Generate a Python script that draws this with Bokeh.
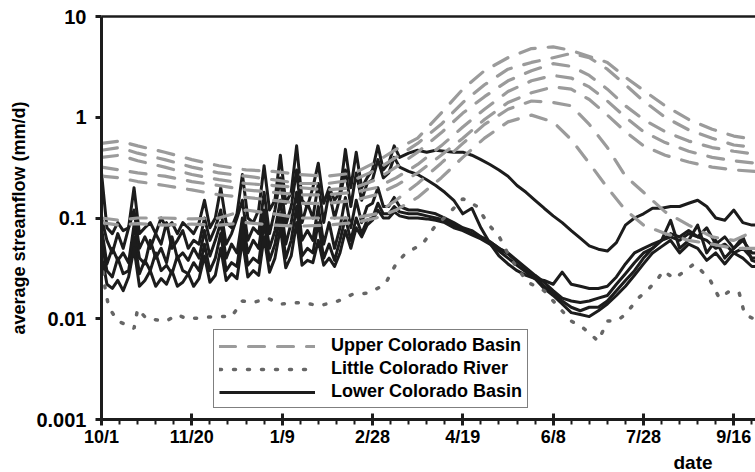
from bokeh.plotting import figure
from bokeh.models import (Range1d, FixedTicker, CustomJSTickFormatter, LinearAxis,
                          Legend, LegendItem, Title)
from bokeh.embed import file_html
from bokeh.resources import INLINE

# ---------------- data (day of water year, streamflow mm/d) ----------------
tick_days = [0, 50, 100, 150, 200, 250, 300, 350]
tick_labels = ["10/1", "11/20", "1/9", "2/28", "4/19", "6/8", "7/28", "9/16"]
minor_days = [d for d in range(0, 363, 10) if d % 50 != 0]

# Upper Colorado Basin (dashed grey)
upper_days = [0, 10, 20, 35, 50, 65, 80, 95, 110, 125, 140, 152, 163, 175, 188,
              200, 212, 225, 238, 250, 260, 270, 280, 290, 300, 312, 325, 338, 350, 362]
upper_1 = [0.55, 0.58, 0.52, 0.45, 0.38, 0.33, 0.3, 0.29, 0.27, 0.26, 0.28, 0.36, 0.48, 0.62, 1.1,
           1.9, 2.9, 3.9, 4.8, 5.0, 4.6, 4.0, 3.5, 2.5, 1.85, 1.3, 0.95, 0.76, 0.65, 0.6]
upper_2 = [0.47, 0.5, 0.44, 0.38, 0.32, 0.28, 0.26, 0.24, 0.22, 0.22, 0.24, 0.3, 0.4, 0.55, 0.85,
           1.4, 2.1, 3.0, 3.5, 3.9, 4.3, 3.9, 3.0, 2.1, 1.45, 1.0, 0.75, 0.62, 0.53, 0.5]
upper_3 = [0.4, 0.42, 0.37, 0.32, 0.27, 0.24, 0.22, 0.21, 0.2, 0.19, 0.2, 0.24, 0.32, 0.45, 0.7,
           1.1, 1.6, 2.3, 2.9, 3.4, 3.2, 2.6, 1.9, 1.3, 0.95, 0.72, 0.58, 0.5, 0.46, 0.43]
upper_4 = [0.32, 0.3, 0.28, 0.26, 0.23, 0.21, 0.19, 0.18, 0.17, 0.17, 0.18, 0.2, 0.25, 0.34, 0.52,
           0.8, 1.2, 1.8, 2.3, 2.6, 2.45, 2.0, 1.45, 1.0, 0.72, 0.56, 0.46, 0.4, 0.37, 0.35]
upper_5 = [0.26, 0.25, 0.23, 0.21, 0.19, 0.17, 0.16, 0.15, 0.14, 0.14, 0.15, 0.17, 0.21, 0.28, 0.42,
           0.62, 0.95, 1.4, 1.75, 2.0, 1.9, 1.5, 1.05, 0.72, 0.52, 0.42, 0.36, 0.32, 0.3, 0.29]
upper_6 = [0.1, 0.095, 0.1, 0.1, 0.098, 0.1, 0.12, 0.11, 0.1, 0.1, 0.1, 0.11, 0.15, 0.22, 0.35,
           0.55, 0.85, 1.2, 1.45, 1.4, 1.3, 0.85, 0.5, 0.26, 0.18, 0.115, 0.085, 0.065, 0.06, 0.075]
upper_7 = [0.09, 0.085, 0.088, 0.085, 0.087, 0.085, 0.09, 0.085, 0.083, 0.085, 0.09, 0.1, 0.12, 0.16, 0.25,
           0.4, 0.62, 0.9, 1.05, 0.9, 0.6, 0.35, 0.2, 0.12, 0.085, 0.07, 0.06, 0.055, 0.05, 0.05]

# Little Colorado River (dotted)
little_days = [0, 2, 4, 9, 18, 20, 25, 36, 42, 47, 55, 62, 72, 78, 84, 92, 99, 110, 121, 131,
               139, 148, 157, 163, 168, 178, 184, 192, 200, 208, 214, 220, 225, 230, 236, 245,
               252, 260, 267, 275, 280, 285, 290, 297, 302, 308, 311, 317, 322, 328, 332, 337,
               342, 348, 353, 356, 361]
little_vals = [0.04, 0.02, 0.013, 0.0095, 0.008, 0.0125, 0.01, 0.0095, 0.011, 0.01,
               0.0102, 0.0105, 0.0105, 0.015, 0.0145, 0.016, 0.014, 0.0145, 0.0135, 0.015,
               0.0175, 0.018, 0.022, 0.035, 0.044, 0.056, 0.08, 0.11, 0.155, 0.13,
               0.087, 0.066, 0.044, 0.032, 0.023, 0.019, 0.0137, 0.0095, 0.008, 0.006,
               0.0095, 0.0095, 0.011, 0.016, 0.019, 0.025, 0.03, 0.025, 0.029, 0.035,
               0.03, 0.024, 0.016, 0.019, 0.018, 0.011, 0.01]

# Lower Colorado Basin (solid black)
lower_days = [0, 3, 6, 9, 12, 15, 18, 21, 24, 27, 30, 33, 36, 39, 42, 45, 48, 51, 54, 57,
              60, 63, 66, 69, 72, 75, 78, 81, 84, 87, 90, 93, 96, 99, 102, 105, 108, 111, 114, 117,
              120, 123, 126, 129, 132, 135, 138, 141, 144, 147, 150, 153, 156, 159, 162,
              165, 170, 175, 180, 185, 190, 195, 200, 205, 210, 215, 220, 225, 230, 235, 240,
              245, 250, 255, 260, 265, 270, 275, 280, 285, 290, 295, 300, 305, 310, 315, 320,
              325, 330, 335, 340, 345, 350, 355, 360, 362]
lower_1 = [0.28, 0.08, 0.07, 0.09, 0.075, 0.08, 0.2, 0.07, 0.08, 0.09,
           0.07, 0.1, 0.08, 0.09, 0.07, 0.09, 0.08, 0.07, 0.09, 0.15,
           0.08, 0.1, 0.2, 0.09, 0.08, 0.11, 0.27, 0.1, 0.09, 0.12,
           0.33, 0.12, 0.15, 0.42, 0.14, 0.18, 0.52, 0.15, 0.13, 0.2,
           0.35, 0.14, 0.2, 0.15, 0.18, 0.48, 0.2, 0.45, 0.2, 0.25,
           0.3, 0.52, 0.3, 0.35, 0.52,
           0.4, 0.44, 0.47, 0.45, 0.47, 0.46, 0.45, 0.45, 0.42, 0.38,
           0.34, 0.3, 0.26, 0.21, 0.18, 0.15, 0.125, 0.105, 0.09, 0.075,
           0.063, 0.053, 0.049, 0.047, 0.057, 0.085, 0.1, 0.11, 0.125, 0.125,
           0.13, 0.13, 0.14, 0.15, 0.13, 0.1, 0.095, 0.12, 0.09, 0.085, 0.085]
lower_2 = [0.1, 0.06, 0.045, 0.07, 0.05, 0.08, 0.12, 0.05, 0.065, 0.05,
           0.07, 0.055, 0.09, 0.05, 0.06, 0.075, 0.05, 0.06, 0.055, 0.1,
           0.06, 0.08, 0.12, 0.055, 0.07, 0.1, 0.15, 0.06, 0.08, 0.07,
           0.18, 0.07, 0.12, 0.25, 0.085, 0.13, 0.3, 0.09, 0.14, 0.1,
           0.22, 0.09, 0.18, 0.1, 0.16, 0.3, 0.13, 0.28, 0.15, 0.22,
           0.24, 0.38, 0.25, 0.28, 0.4,
           0.32, 0.29, 0.27, 0.24, 0.21, 0.18, 0.15, 0.11, 0.125, 0.08,
           0.056, 0.042, 0.035, 0.03, 0.027, 0.025, 0.024, 0.022, 0.029, 0.022,
           0.021, 0.02, 0.02, 0.021, 0.026, 0.035, 0.045, 0.05, 0.055, 0.06,
           0.07, 0.065, 0.075, 0.065, 0.08, 0.055, 0.065, 0.05, 0.06, 0.045, 0.045]
lower_3 = [0.08, 0.035, 0.05, 0.038, 0.045, 0.036, 0.085, 0.04, 0.035, 0.06,
           0.04, 0.05, 0.036, 0.065, 0.04, 0.045, 0.038, 0.05, 0.04, 0.075,
           0.042, 0.06, 0.09, 0.04, 0.055, 0.045, 0.1, 0.045, 0.06, 0.05,
           0.12, 0.05, 0.075, 0.15, 0.055, 0.09, 0.18, 0.06, 0.075, 0.06,
           0.13, 0.055, 0.09, 0.05, 0.08, 0.16, 0.08, 0.15, 0.09, 0.13,
           0.14, 0.2, 0.13, 0.13, 0.16,
           0.13, 0.12, 0.12, 0.115, 0.11, 0.1, 0.09, 0.08, 0.075, 0.065,
           0.058, 0.05, 0.045, 0.038, 0.032, 0.027, 0.023, 0.019, 0.016, 0.015,
           0.0145, 0.015, 0.016, 0.017, 0.022, 0.028, 0.036, 0.045, 0.05, 0.06,
           0.065, 0.06, 0.07, 0.065, 0.06, 0.05, 0.055, 0.045, 0.05, 0.04, 0.04]
lower_4 = [0.06, 0.03, 0.026, 0.04, 0.028, 0.03, 0.065, 0.028, 0.038, 0.03,
           0.045, 0.03, 0.034, 0.028, 0.042, 0.03, 0.028, 0.036, 0.03, 0.055,
           0.03, 0.04, 0.07, 0.03, 0.036, 0.033, 0.08, 0.034, 0.04, 0.036,
           0.09, 0.038, 0.055, 0.11, 0.04, 0.06, 0.13, 0.042, 0.05, 0.045,
           0.09, 0.04, 0.055, 0.038, 0.06, 0.1, 0.06, 0.1, 0.07, 0.095,
           0.1, 0.14, 0.11, 0.11, 0.13,
           0.115, 0.11, 0.11, 0.105, 0.1, 0.095, 0.085, 0.078, 0.07, 0.065,
           0.058, 0.05, 0.044, 0.037, 0.031, 0.026, 0.021, 0.018, 0.015, 0.013,
           0.012, 0.013, 0.013, 0.015, 0.019, 0.024, 0.03, 0.04, 0.05, 0.06,
           0.095, 0.05, 0.06, 0.085, 0.045, 0.06, 0.04, 0.05, 0.065, 0.038, 0.037]
lower_5 = [0.045, 0.022, 0.02, 0.024, 0.019, 0.026, 0.05, 0.021, 0.024, 0.03,
           0.021, 0.025, 0.022, 0.03, 0.021, 0.023, 0.028, 0.021, 0.025, 0.042,
           0.023, 0.027, 0.05, 0.024, 0.028, 0.025, 0.06, 0.026, 0.03, 0.027,
           0.065, 0.029, 0.04, 0.08, 0.032, 0.042, 0.09, 0.034, 0.038, 0.036,
           0.06, 0.034, 0.04, 0.033, 0.045, 0.075, 0.05, 0.08, 0.065, 0.085,
           0.095, 0.12, 0.1, 0.1, 0.115,
           0.105, 0.1, 0.1, 0.098, 0.095, 0.09, 0.08, 0.075, 0.068, 0.062,
           0.055, 0.047, 0.04, 0.034, 0.029, 0.025, 0.02, 0.017, 0.014, 0.0115,
           0.011, 0.0105, 0.012, 0.014, 0.017, 0.021, 0.027, 0.035, 0.045, 0.052,
           0.06, 0.045, 0.055, 0.05, 0.038, 0.045, 0.035, 0.045, 0.04, 0.033, 0.033]

upper_series = [upper_1, upper_2, upper_3, upper_4, upper_5, upper_6, upper_7]
lower_series = [lower_1, lower_2, lower_3, lower_4, lower_5]

FONT = "Liberation Sans"
BLACK = "#1c1c1c"
GREY = "#9b9b9b"
DOT = "#666666"

p = figure(width=755, height=472, y_axis_type="log",
           x_range=Range1d(0, 362), y_range=Range1d(0.001, 10),
           output_backend="svg", toolbar_location=None,
           min_border_left=101, min_border_right=0, min_border_top=16, min_border_bottom=53)
p.xgrid.visible = False
p.ygrid.visible = False
p.outline_line_color = None
p.background_fill_color = "white"
p.border_fill_color = "white"

lower_r = [p.line(lower_days, s, line_color=BLACK, line_width=3, line_join="round")
           for s in lower_series]
little_r = p.line(little_days, little_vals, line_color=DOT, line_width=3.5,
                  line_dash="2 12", line_cap="round")
upper_r = [p.line(upper_days, s, line_color=GREY, line_width=3.2, line_dash="16 13",
                  line_cap="round", line_join="round")
           for s in upper_series]

# x axis
xa = p.xaxis[0]
xa.ticker = FixedTicker(ticks=tick_days, minor_ticks=minor_days)
xa.major_label_overrides = {d: lab for d, lab in zip(tick_days, tick_labels)}
xa.axis_line_width = 3
xa.axis_line_color = BLACK
xa.major_tick_line_width = 3
xa.major_tick_line_color = BLACK
xa.major_tick_in = 6
xa.major_tick_out = 6
xa.minor_tick_line_width = 2
xa.minor_tick_line_color = BLACK
xa.minor_tick_in = 0
xa.minor_tick_out = 5
xa.major_label_standoff = 1
xa.major_label_text_font = FONT
xa.major_label_text_font_style = "bold"
xa.major_label_text_font_size = "18px"
xa.major_label_text_color = "black"

# y axis
ya = p.yaxis[0]
ya.ticker = FixedTicker(ticks=[0.001, 0.01, 0.1, 1, 10])
ya.formatter = CustomJSTickFormatter(code="return String(tick)")
ya.axis_line_width = 3
ya.axis_line_color = BLACK
ya.major_tick_line_width = 3
ya.major_tick_line_color = BLACK
ya.major_tick_in = 0
ya.major_tick_out = 6
ya.minor_tick_line_color = None
ya.major_label_standoff = 9
ya.major_label_text_font = FONT
ya.major_label_text_font_style = "bold"
ya.major_label_text_font_size = "20px"
ya.major_label_text_color = "black"
ya.axis_label = "average streamflow (mm/d)"
ya.axis_label_text_font = FONT
ya.axis_label_text_font_style = "bold"
ya.axis_label_text_font_size = "18px"
ya.axis_label_text_color = "black"
ya.axis_label_standoff = 4

# top frame line
top = LinearAxis(ticker=FixedTicker(ticks=[]), axis_line_width=2.5, axis_line_color=BLACK,
                 major_tick_line_color=None, minor_tick_line_color=None,
                 major_label_text_font_size="0px", major_label_standoff=0)
p.add_layout(top, "above")

legend = Legend(items=[LegendItem(label="Upper Colorado Basin", renderers=[upper_r[0]]),
                       LegendItem(label="Little Colorado River", renderers=[little_r]),
                       LegendItem(label="Lower Colorado Basin", renderers=[lower_r[0]])],
                location=(112, 11), glyph_width=96, glyph_height=20, label_height=20,
                label_standoff=16, padding=5, spacing=2, margin=0,
                border_line_color="black", border_line_width=1.5,
                background_fill_color="white", background_fill_alpha=1,
                label_text_font=FONT, label_text_font_style="bold",
                label_text_font_size="18px", label_text_color="black")
p.add_layout(legend)

date_title = Title(text="date", align="left", offset=572, standoff=0,
                   text_font=FONT, text_font_style="bold", text_font_size="19px",
                   text_color="black")
p.add_layout(date_title, "below")

open("out.html", "w").write(file_html(p, INLINE))
